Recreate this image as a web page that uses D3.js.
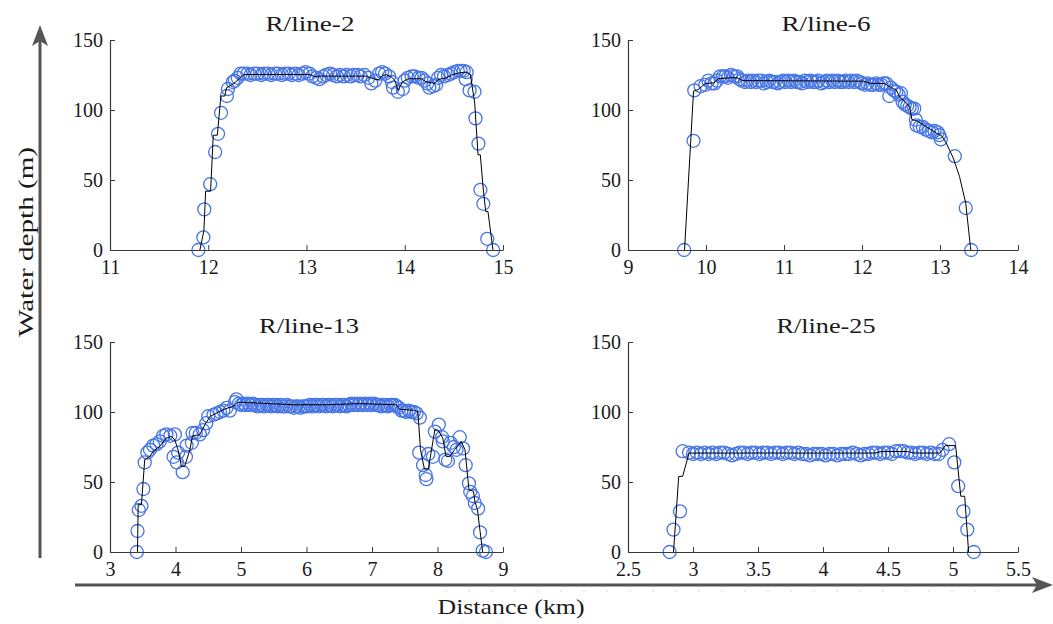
<!DOCTYPE html>
<html>
<head>
<meta charset="utf-8">
<script src="https://cdn.jsdelivr.net/npm/d3@7"></script>
<style>
  html, body { margin: 0; padding: 0; background: #fff; }
  svg { display: block; }
</style>
</head>
<body>
<svg id="chart" width="1053" height="624"></svg>
<script>
// ---------------- DATA ----------------
const titles = ["R/line-2", "R/line-6", "R/line-13", "R/line-25"];
const xTicks2 = [11, 12, 13, 14, 15];
const xTicks6 = [9, 10, 11, 12, 13, 14];
const xTicks13 = [3, 4, 5, 6, 7, 8, 9];
const xTicks25 = [2.5, 3, 3.5, 4, 4.5, 5, 5.5];
const yTicks = [0, 50, 100, 150];
const xAxisTitle = "Distance (km)";
const yAxisTitle = "Water depth (m)";

// R/line-2 measured points (circles)
const line2Dist = [11.90, 11.95, 11.96, 12.02, 12.07, 12.10, 12.13, 12.19, 12.20, 12.25, 12.27, 12.30, 12.33,
  12.36, 12.40, 12.43, 12.47, 12.50, 12.54, 12.57, 12.61, 12.64, 12.68, 12.71, 12.75, 12.78, 12.82, 12.85, 12.89,
  12.92, 12.96, 12.99, 13.03, 13.06, 13.10, 13.13, 13.17, 13.20, 13.24, 13.27, 13.31, 13.34, 13.38, 13.41, 13.45,
  13.48, 13.52, 13.55, 13.59, 13.63, 13.66, 13.70, 13.74, 13.77, 13.80, 13.84, 13.87, 13.88, 13.93, 13.98, 14.00,
  14.03, 14.07, 14.10, 14.14, 14.17, 14.20, 14.23, 14.25, 14.29, 14.32, 14.34, 14.37, 14.40, 14.44, 14.47, 14.50,
  14.54, 14.57, 14.60, 14.63, 14.62, 14.66, 14.71, 14.72, 14.75, 14.77, 14.80, 14.84, 14.90];
const line2Depth = [0, 9, 29, 47, 70, 83, 98, 110, 115, 120, 121, 123, 126,
  126, 126, 125, 126, 126, 125, 126, 126, 125, 126, 126, 125, 126, 126, 125, 126,
  125, 126, 127, 126, 124, 123, 122, 124, 125, 126, 125, 124, 125, 124, 125, 124,
  125, 125, 124, 125, 123, 119, 121, 126, 127, 126, 124, 120, 116, 113, 115, 121,
  123, 124, 124, 123, 123, 121, 119, 116, 117, 118, 123, 125, 124, 125, 126, 127,
  128, 128, 128, 127, 122, 114, 113, 94, 76, 43, 33, 8, 0];
// R/line-2 profile line
const line2FitDist = [11.915, 11.956, 11.973, 12.024, 12.051, 12.092, 12.129, 12.169, 12.186, 12.227, 12.261, 12.295,
  12.339, 12.373, 13.034, 13.085, 13.136, 13.610, 13.661, 13.705, 13.739, 13.773, 13.814, 13.864, 13.898, 13.932,
  13.976, 14.034, 14.169, 14.220, 14.305, 14.339, 14.424, 14.492, 14.559, 14.627, 14.668, 14.712, 14.746, 14.769,
  14.797, 14.824, 14.847, 14.898];
const line2FitDepth = [0, 14, 42, 42, 82, 82, 110, 110, 116, 117.5, 119, 121,
  124, 125.4, 125.4, 123.7, 124.2, 124.2, 122.8, 121.8, 121.8, 124.7, 125.2, 123.5, 121.3, 114,
  120, 122.3, 122.3, 120, 119, 121.8, 123, 125.4, 126.6, 127.1, 125.4, 105, 68, 68,
  45, 27.5, 27.5, 0];

// R/line-6 measured points
const line6Dist = [9.72, 9.84, 9.85, 9.93, 9.99, 10.03, 10.07, 10.11, 10.14, 10.18, 10.22, 10.25, 10.28, 10.32, 10.36,
  10.40, 10.43, 10.46, 10.50, 10.53, 10.57, 10.60, 10.64, 10.67, 10.71, 10.74, 10.78, 10.81, 10.85, 10.88, 10.92,
  10.95, 10.99, 11.02, 11.06, 11.09, 11.13, 11.16, 11.20, 11.23, 11.27, 11.30, 11.34, 11.37, 11.41, 11.44, 11.48,
  11.51, 11.55, 11.58, 11.62, 11.65, 11.69, 11.72, 11.76, 11.79, 11.83, 11.86, 11.90, 11.93, 11.97, 12.00, 12.04,
  12.07, 12.11, 12.14, 12.18, 12.21, 12.25, 12.28, 12.31, 12.35, 12.37, 12.41, 12.44, 12.47, 12.50, 12.52, 12.55,
  12.58, 12.61, 12.64, 12.67, 12.69, 12.70, 12.74, 12.78, 12.82, 12.86, 12.90, 12.93, 12.97, 12.99, 13.01, 13.19,
  13.33, 13.40];
const line6Depth = [0, 78, 114, 117, 118, 121, 119, 119, 121, 124, 124, 124, 123, 125, 124,
  124, 122, 121, 120, 121, 120, 121, 120, 121, 121, 119, 120, 121, 120, 120, 119,
  120, 121, 120, 121, 120, 121, 120, 120, 119, 121, 120, 121, 120, 120, 121, 119,
  120, 121, 120, 121, 120, 121, 120, 120, 121, 120, 121, 120, 121, 120, 119, 118,
  119, 118, 118, 119, 118, 118, 119, 119, 110, 116, 114, 113, 111, 112, 106, 104,
  103, 102, 101, 101, 93, 89, 88, 88, 86, 85, 84, 85, 84, 82, 79, 67,
  30, 0];
const line6FitDist = [9.725, 9.84, 9.90, 9.99, 10.10, 10.16, 10.31, 10.40, 10.47, 12.02, 12.11, 12.29, 12.38, 12.44,
  12.49, 12.53, 12.57, 12.61, 12.64, 12.70, 12.78, 12.87, 12.95, 13.02, 13.08, 13.17, 13.25, 13.33, 13.39, 13.395];
const line6FitDepth = [0, 113.4, 114.6, 118.9, 119.4, 122.3, 123, 123, 121, 120.6, 118.9, 118.9, 115.8, 114.2,
  108.7, 107, 104.6, 102.7, 93.1, 92.4, 89.6, 86.5, 83.6, 81.7, 76.4, 65.7, 52.5, 33.4, 2.4, 0];

// R/line-13 measured points
const line13Dist = [3.41, 3.42, 3.44, 3.48, 3.51, 3.53, 3.57, 3.61, 3.66, 3.71, 3.76, 3.81, 3.86, 3.92, 3.99,
  3.97, 4.02, 4.04, 4.11, 4.16, 4.17, 4.25, 4.26, 4.31, 4.37, 4.42, 4.47, 4.50, 4.58, 4.63, 4.68, 4.73, 4.78,
  4.83, 4.91, 4.93, 4.97, 5.00, 5.04, 5.07, 5.11, 5.14, 5.18, 5.21, 5.25, 5.28, 5.32, 5.35, 5.39, 5.42, 5.46,
  5.49, 5.53, 5.56, 5.60, 5.63, 5.67, 5.70, 5.74, 5.77, 5.81, 5.84, 5.88, 5.91, 5.95, 5.98, 6.02, 6.05, 6.09,
  6.12, 6.16, 6.19, 6.23, 6.26, 6.30, 6.33, 6.37, 6.40, 6.44, 6.47, 6.51, 6.54, 6.58, 6.61, 6.65, 6.68, 6.72,
  6.75, 6.79, 6.82, 6.86, 6.89, 6.93, 6.96, 7.00, 7.03, 7.07, 7.10, 7.14, 7.17, 7.21, 7.24, 7.28, 7.31, 7.35,
  7.38, 7.41, 7.45, 7.49, 7.52, 7.56, 7.60, 7.64, 7.68, 7.73, 7.72, 7.78, 7.82, 7.83, 7.86, 7.93, 7.96, 8.02,
  8.07, 8.08, 8.12, 8.16, 8.20, 8.25, 8.29, 8.34, 8.39, 8.43, 8.48, 8.50, 8.54, 8.57, 8.62, 8.65, 8.69, 8.74];
const line13Depth = [0, 15, 30, 33, 45, 64, 71, 73, 76, 77, 79, 83, 84, 83, 84,
  68, 64, 71, 57, 68, 76, 78, 85, 85, 84, 87, 92, 97, 98, 99, 100, 101, 103,
  101, 107, 109, 106, 105, 106, 105, 106, 105, 106, 105, 104, 105, 105, 104, 105, 105, 104,
  105, 105, 104, 105, 104, 104, 105, 104, 104, 103, 104, 104, 103, 104, 104, 104, 105, 104,
  105, 105, 104, 105, 105, 104, 105, 105, 104, 105, 105, 104, 105, 105, 104, 105, 106, 105,
  106, 105, 106, 105, 106, 105, 106, 105, 106, 105, 105, 104, 105, 105, 104, 105, 105, 105,
  104, 103, 101, 101, 100, 101, 100, 100, 99, 96, 71, 62, 55, 52, 70, 68, 86, 91,
  82, 79, 66, 65, 78, 75, 73, 82, 74, 62, 49, 43, 40, 35, 31, 14, 1, 0];
const line13FitDist = [3.42, 3.43, 3.48, 3.53, 3.61, 3.66, 3.76, 3.86, 3.94, 3.99, 4.04, 4.09, 4.14, 4.22, 4.26,
  4.37, 4.45, 4.53, 4.63, 4.73, 4.80, 4.88, 4.93, 4.98, 5.80, 6.30, 6.81, 7.37, 7.42, 7.65, 7.70, 7.74, 7.80,
  7.86, 7.96, 8.01, 8.08, 8.13, 8.19, 8.26, 8.31, 8.36, 8.42, 8.48, 8.55, 8.57, 8.61, 8.65, 8.69];
const line13FitDepth = [0, 33.8, 33.8, 66, 68.3, 72, 75.5, 81.4, 82.6, 80, 72.9, 61.2, 61.2, 73, 83,
  83.8, 91, 96.9, 99.3, 101.7, 102.9, 104, 106.4, 107, 105.2, 105.2, 106, 105.2, 102, 101.2, 100.5, 73.1, 59.3,
  59.3, 87.4, 87, 81.4, 68.3, 68.3, 73.1, 75.5, 79, 73.1, 44.5, 43.3, 36.2, 30.2, 14.8, 0];

// R/line-25 measured points
const line25Dist = [2.82, 2.85, 2.90, 2.92, 2.97, 3.00, 3.03, 3.06, 3.09, 3.12, 3.15, 3.18, 3.21, 3.24, 3.27,
  3.30, 3.33, 3.36, 3.39, 3.42, 3.45, 3.48, 3.51, 3.54, 3.57, 3.60, 3.63, 3.66, 3.69, 3.72, 3.75, 3.78, 3.81,
  3.84, 3.87, 3.90, 3.93, 3.96, 3.99, 4.02, 4.05, 4.08, 4.11, 4.14, 4.17, 4.20, 4.23, 4.26, 4.29, 4.32, 4.35,
  4.38, 4.41, 4.44, 4.47, 4.50, 4.53, 4.56, 4.59, 4.62, 4.65, 4.68, 4.71, 4.74, 4.77, 4.80, 4.83, 4.86, 4.89,
  4.92, 4.97, 5.01, 5.04, 5.08, 5.11, 5.16];
const line25Depth = [0, 16, 29, 72, 71, 70, 71, 70, 71, 70, 71, 70, 71, 71, 70,
  69, 70, 71, 71, 70, 71, 71, 70, 71, 71, 70, 71, 71, 70, 71, 71, 70, 71,
  70, 70, 69, 70, 70, 70, 69, 70, 70, 69, 70, 70, 70, 71, 70, 69, 70, 70,
  71, 71, 70, 71, 71, 70, 72, 72, 72, 71, 71, 70, 71, 71, 70, 71, 70, 70,
  73, 77, 64, 47, 29, 16, 0];
const line25FitDist = [2.85, 2.89, 2.92, 2.97, 4.40, 4.45, 4.65, 4.70, 4.90, 4.94, 5.02, 5.06, 5.09, 5.12];
const line25FitDepth = [0, 54, 54, 70.7, 70.7, 71.8, 71.8, 70.7, 70.7, 76, 76, 39.8, 39.8, 0];

// ---------------- LAYOUT ----------------
const FONT = '"Liberation Serif", "Times New Roman", serif';
const panels = [
  { title: titles[0], dist: line2Dist, depth: line2Depth, fitDist: line2FitDist, fitDepth: line2FitDepth,
    xTicks: xTicks2, x0: 110, x1: 503, yTop: 40, yBot: 250, tx: 310, tyBase: 31, tw: 89 },
  { title: titles[1], dist: line6Dist, depth: line6Depth, fitDist: line6FitDist, fitDepth: line6FitDepth,
    xTicks: xTicks6, x0: 628, x1: 1018, yTop: 40, yBot: 250, tx: 826, tyBase: 31, tw: 89 },
  { title: titles[2], dist: line13Dist, depth: line13Depth, fitDist: line13FitDist, fitDepth: line13FitDepth,
    xTicks: xTicks13, x0: 110, x1: 503, yTop: 342, yBot: 552, tx: 309, tyBase: 333, tw: 100 },
  { title: titles[3], dist: line25Dist, depth: line25Depth, fitDist: line25FitDist, fitDepth: line25FitDepth,
    xTicks: xTicks25, x0: 628, x1: 1018, yTop: 342, yBot: 552, tx: 826, tyBase: 333, tw: 99 }
];

const svg = d3.select("#chart");
const circleColor = "#4775e6";
const axisColor = "#3a3a3a";
const textColor = "#1a1a1a";
const tickFont = 20;

panels.forEach(p => {
  const x = d3.scaleLinear().domain(d3.extent(p.xTicks)).range([p.x0, p.x1]);
  const y = d3.scaleLinear().domain([0, 150]).range([p.yBot, p.yTop]);
  const g = svg.append("g");

  g.append("g").selectAll("circle")
    .data(d3.range(p.dist.length))
    .join("circle")
    .attr("cx", i => x(p.dist[i]))
    .attr("cy", i => y(p.depth[i]))
    .attr("r", 6.5)
    .attr("fill", "none")
    .attr("stroke", circleColor)
    .attr("stroke-width", 1.3);

  const line = d3.line().x(i => x(p.fitDist[i])).y(i => y(p.fitDepth[i]));
  g.append("path")
    .attr("d", line(d3.range(p.fitDist.length)))
    .attr("fill", "none")
    .attr("stroke", "#000")
    .attr("stroke-width", 1);

  const xAxis = d3.axisBottom(x).tickValues(p.xTicks).tickFormat(d3.format("~g"))
    .tickSizeInner(-5).tickSizeOuter(0).tickPadding(10);
  const gx = g.append("g").attr("transform", `translate(0,${p.yBot})`).call(xAxis);
  const yAxis = d3.axisLeft(y).tickValues(yTicks).tickFormat(d3.format("~g"))
    .tickSizeInner(-5).tickSizeOuter(0).tickPadding(7);
  const gy = g.append("g").attr("transform", `translate(${p.x0},0)`).call(yAxis);
  [gx, gy].forEach(ax => {
    ax.attr("font-family", null).attr("font-size", null);
    ax.select(".domain").attr("stroke", axisColor).attr("stroke-width", 1.2);
    ax.selectAll(".tick line").attr("stroke", axisColor).attr("stroke-width", 1);
    ax.selectAll(".tick text").style("font-family", FONT).style("font-weight", "normal")
      .style("font-size", tickFont + "px").attr("fill", textColor);
  });

  g.append("text")
    .attr("x", p.tx).attr("y", p.tyBase)
    .attr("text-anchor", "middle")
    .style("font-family", FONT).style("font-weight", "normal").style("font-size", "22px")
    .attr("fill", textColor)
    .attr("textLength", p.tw)
    .attr("lengthAdjust", "spacingAndGlyphs")
    .text(p.title);
});

const arrowColor = "#555";
svg.append("line").attr("x1", 40).attr("y1", 558).attr("x2", 40).attr("y2", 40)
  .attr("stroke", arrowColor).attr("stroke-width", 3);
svg.append("path").attr("d", "M40,25 L32,46 L40,41 L48,46 Z").attr("fill", arrowColor);

svg.append("line").attr("x1", 75).attr("y1", 585).attr("x2", 1040).attr("y2", 585)
  .attr("stroke", arrowColor).attr("stroke-width", 3);
svg.append("path").attr("d", "M1053,585 L1032,577 L1037,585 L1032,593 Z").attr("fill", arrowColor);

svg.append("line").attr("x1", 445).attr("y1", 591).attr("x2", 1015).attr("y2", 591)
  .attr("stroke", "#d8d8d8").attr("stroke-width", 1).attr("stroke-dasharray", "2,21");

svg.append("text").attr("x", 511).attr("y", 614).attr("text-anchor", "middle")
  .style("font-family", FONT).style("font-weight", "normal").style("font-size", "21px").attr("fill", textColor)
  .attr("textLength", 147).attr("lengthAdjust", "spacingAndGlyphs")
  .text(xAxisTitle);
svg.append("text").attr("transform", "translate(33,242) rotate(-90)").attr("text-anchor", "middle")
  .style("font-family", FONT).style("font-weight", "normal").style("font-size", "21px").attr("fill", textColor)
  .attr("textLength", 190).attr("lengthAdjust", "spacingAndGlyphs")
  .text(yAxisTitle);
</script>
</body>
</html>
